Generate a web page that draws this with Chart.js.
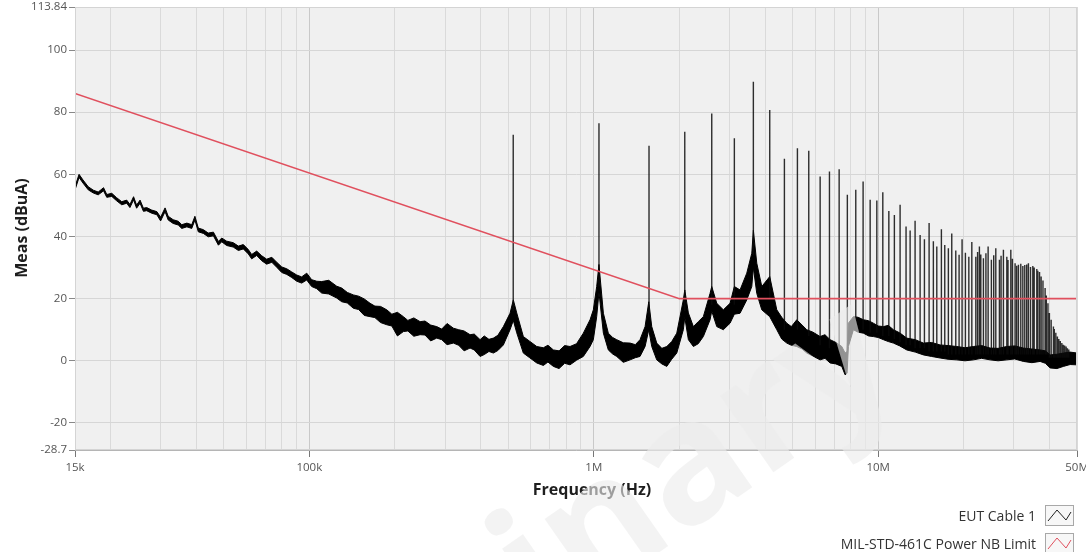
<!DOCTYPE html>
<html>
<head>
<meta charset="utf-8">
<script src="https://cdn.jsdelivr.net/npm/chart.js@4.4.1/dist/chart.umd.min.js"></script>
<style>
  body { margin: 0; background: #fff; }
  #wrap { position: relative; width: 1086px; height: 552px; overflow: hidden; }
  .leg { position: absolute; right: 12px; display: flex; align-items: center;
         font: 14px "Open Sans", sans-serif; color: #333; }
  .leg svg { margin-left: 9px; }
</style>
</head>
<body>
<div id="wrap">
  <canvas id="emiChart" width="1086" height="552"></canvas>
  <div class="leg" style="top:505px">EUT Cable 1
    <svg width="29" height="21"><rect x="0.5" y="0.5" width="28" height="20" fill="#f7f7f7" stroke="#a8a8a8"/>
      <polyline points="3,16 12,5 21,15 26,7" fill="none" stroke="#222" stroke-width="1"/></svg>
  </div>
  <div class="leg" style="top:533px">MIL-STD-461C Power NB Limit
    <svg width="29" height="21"><rect x="0.5" y="0.5" width="28" height="20" fill="#f7f7f7" stroke="#a8a8a8"/>
      <polyline points="3,16 12,5 21,15 26,7" fill="none" stroke="#e0505e" stroke-width="1"/></svg>
  </div>
</div>
<script>
// EUT Cable 1 noise floor, read as low / high edge of the trace (freq kHz, dBuA)
var eutFreq = [15.0, 15.5, 16.0, 16.7, 17.4, 18.1, 18.9, 19.4, 20.2, 21.0,
  21.9, 22.8, 23.4, 24.1, 24.7, 25.4, 26.1, 26.8, 27.9, 29.1,
  30.0, 31.1, 31.9, 33.2, 34.6, 35.6, 37.1, 38.6, 39.6, 40.7,
  42.4, 44.1, 46.0, 47.9, 49.2, 51.2, 54.0, 56.3, 58.6, 61.0,
  62.7, 65.3, 68.0, 70.8, 73.8, 76.8, 80.0, 83.3, 86.7, 90.3,
  94.0, 97.9, 101.9, 106.2, 110.5, 117, 124.8, 130, 136, 142.8,
  149, 156, 163.5, 170, 178, 187.2, 195, 204, 214.1, 222,
  233, 245.1, 255, 267, 280.5, 292, 305, 320.9, 335, 350,
  367.3, 380, 398.4, 412, 428, 443.7, 460, 481.0, 507.7, 521.4,
  536.0, 565.4, 595, 630.3, 665, 690, 721.1, 755, 790, 825.2,
  870, 919.0, 970.3, 996.6, 1024, 1043, 1081, 1125, 1165, 1204,
  1270, 1342, 1400, 1454, 1515, 1561, 1599, 1665, 1735, 1806,
  1880, 1958, 2065, 2089, 2151, 2240, 2330, 2428, 2564, 2599,
  2707, 2855, 3014, 3121, 3268, 3451, 3594, 3640, 3742, 3897,
  4156, 4400, 4580, 4771, 4950, 5173, 5400, 5609, 5900, 6248,
  6500, 6774, 7100, 7446, 7649, 7773, 7856, 8182, 8500, 8870,
  9250, 9618, 10000, 10430, 10850, 11310, 11900, 12600, 13500, 14420,
  15400, 16510, 17600, 18890, 20200, 21610, 23100, 24740, 26400, 28320,
  30200, 32400, 34700, 37090, 38700, 40220, 42500, 44780, 47300, 50000];
var eutLow = [55.0, 59.0, 57.2, 55.0, 54.0, 53.4, 54.7, 52.6, 52.9, 51.5,
  50.2, 50.7, 49.3, 51.8, 49.1, 50.7, 48.1, 48.3, 47.5, 47.0,
  45.0, 48.0, 45.3, 44.2, 43.7, 42.6, 43.1, 42.6, 45.3, 41.5,
  41.0, 39.9, 40.2, 37.2, 38.3, 37.1, 36.6, 35.5, 36.0, 34.4,
  32.8, 33.9, 32.2, 31.1, 31.7, 30.1, 28.4, 27.8, 26.8, 25.6,
  25.0, 26.0, 23.9, 23.2, 21.8, 21.5, 20.2, 19.0, 18.6, 16.9,
  16.5, 14.6, 14.2, 13.9, 12.3, 11.6, 11.2, 8.0, 9.4, 9.6,
  7.9, 8.4, 8.3, 6.4, 7.3, 6.8, 5.2, 5.7, 5.0, 3.2,
  4.1, 3.5, 1.4, 2.0, 3.0, 2.5, 3.3, 5.1, 10.0, 13.0,
  9.0, 2.5, 1.0, -0.7, -1.5, -0.4, -1.8, -2.5, -0.8, -1.3,
  0.2, 1.4, 4.6, 6.8, 14.2, 22.0, 8.9, 3.5, 2.2, 1.4,
  -0.5, 0.3, 1.0, 1.4, 4.6, 10.0, 4.6, 0.3, -1.0, -1.8,
  0.5, 2.5, 10.0, 14.0, 6.8, 4.6, 5.5, 7.8, 13.2, 16.0,
  11.0, 10.0, 12.1, 15.0, 15.3, 19.6, 23.9, 30.0, 21.7, 16.4,
  14.2, 10.0, 7.0, 5.7, 5.0, 4.6, 3.8, 2.5, 1.5, 0.3,
  0.8, -0.7, -1.0, -1.8, -4.5, -4.0, 4.6, 10.0, 9.2, 8.9,
  8.0, 7.8, 7.5, 6.8, 6.2, 5.7, 4.8, 3.5, 2.8, 1.9,
  1.4, 0.9, 0.5, 0.3, 0.0, 0.3, 0.8, 0.3, 0.0, 0.3,
  0.6, -0.2, -0.6, -0.2, -0.8, -2.3, -2.5, -1.8, -1.2, -1.3];
var eutHigh = [56.0, 60.0, 58.2, 56.0, 54.9, 54.3, 55.7, 53.5, 53.9, 52.5,
  51.2, 51.7, 50.3, 52.8, 50.1, 51.7, 49.1, 49.3, 48.5, 48.0,
  46.2, 49.2, 46.5, 45.4, 44.9, 43.8, 44.3, 43.8, 46.5, 42.7,
  42.2, 41.1, 41.4, 38.4, 39.5, 38.5, 38.0, 36.9, 37.4, 35.8,
  34.2, 35.3, 33.8, 32.7, 33.3, 31.7, 30.2, 29.6, 28.6, 27.6,
  27.0, 28.2, 26.1, 25.6, 25.5, 25.9, 24.0, 23.4, 22.0, 21.2,
  20.8, 19.9, 18.5, 17.6, 17.5, 16.4, 15.0, 15.6, 14.2, 13.0,
  13.8, 12.6, 12.8, 11.5, 11.0, 10.2, 12.0, 10.5, 10.0, 9.6,
  8.4, 8.6, 6.8, 8.0, 6.9, 7.3, 8.2, 11.0, 15.3, 19.6,
  15.4, 7.8, 6.3, 4.6, 4.2, 5.0, 3.5, 3.2, 4.9, 4.6,
  5.5, 8.9, 13.2, 16.4, 23.9, 31.0, 15.3, 8.9, 7.5, 6.8,
  5.8, 5.7, 5.2, 6.8, 11.0, 19.0, 11.0, 5.7, 4.0, 4.6,
  6.2, 8.9, 19.6, 22.8, 15.4, 11.0, 12.6, 14.2, 21.7, 23.9,
  18.5, 16.4, 18.5, 23.9, 22.8, 28.2, 34.6, 42.0, 31.4, 23.9,
  27.1, 16.4, 14.0, 12.1, 11.0, 13.2, 11.5, 10.0, 9.2, 7.8,
  8.4, 6.8, 5.9, 4.6, 2.5, 3.0, 12.1, 14.2, 14.0, 13.2,
  12.9, 12.1, 11.2, 11.0, 11.4, 10.0, 9.0, 7.3, 6.8, 5.7,
  5.9, 5.1, 4.9, 4.6, 4.2, 4.6, 4.9, 4.1, 4.0, 4.6,
  4.8, 4.1, 3.8, 3.5, 3.2, 1.9, 2.1, 2.5, 2.8, 2.5];

// harmonic spikes of EUT Cable 1: frequency (kHz), peak and foot level (dBuA)
var spikeFreq = [521, 1043, 1564, 2089, 2599, 3121, 3640, 4156, 4680, 5200,
  5700, 6250, 6740, 7290, 7790, 8340, 8850, 9370, 9890, 10380,
  10900, 11400, 11940, 12530, 12950, 13480, 14040, 14540, 15100, 15630,
  16070, 16680, 17140, 17650, 18140, 18740, 19250, 19720, 20260, 20830,
  21340, 22040, 22360, 22690, 22950, 23440, 23920, 24350, 25000, 25480,
  25910, 26680, 27040, 27560, 28330, 28600, 29260, 29640, 30290, 30680,
  31120, 31720, 32250, 32760, 33280, 33740, 34320, 34960, 35360, 36110,
  36400, 36920, 37400, 37960, 38620, 39000, 39520, 39990, 40560, 41310,
  41600, 42120, 42670, 43160, 43680, 44220, 44720, 45240, 45790, 46280,
  46800];
var spikePeak = [72.7, 76.4, 69.2, 73.7, 79.6, 71.6, 89.8, 80.7, 65.0, 68.4,
  67.6, 59.3, 60.9, 61.6, 53.4, 55.0, 57.7, 51.8, 51.6, 54.2,
  48.2, 46.9, 50.2, 43.2, 41.9, 45.1, 40.5, 39.1, 44.3, 38.5,
  36.8, 42.3, 37.3, 36.2, 41.0, 35.5, 34.1, 39.1, 34.8, 33.5,
  38.2, 33.5, 35.0, 36.8, 34.2, 33.0, 34.6, 36.8, 32.5, 34.0,
  36.2, 32.5, 33.8, 35.7, 33.5, 32.4, 35.7, 32.8, 31.4, 30.6,
  30.9, 31.2, 30.5, 30.8, 31.0, 31.4, 30.2, 30.5, 30.0, 29.5,
  29.0, 28.6, 27.1, 25.8, 23.4, 21.0, 18.5, 15.4, 13.2, 11.0,
  10.2, 9.0, 7.8, 7.0, 6.4, 5.7, 5.2, 4.9, 4.6, 4.0,
  3.6];
var spikeBase = [16, 24, 14, 16, 18, 18, 34, 20, 10, 10,
  8, 5, 4, 3, 2, 11, 10, 9, 9, 8,
  8, 7, 6, 5, 5, 4, 4, 4, 3, 3,
  3, 3, 3, 2, 2, 2, 2, 2, 2, 2,
  2, 2, 2, 2, 2, 2, 2, 2, 2, 2,
  2, 2, 2, 2, 2, 2, 2, 2, 2, 2,
  2, 2, 2, 2, 2, 2, 2, 2, 2, 2,
  2, 2, 2, 2, 2, 2, 2, 1, 1, 1,
  1, 1, 1, 1, 1, 1, 1, 1, 1, 1,
  1];

// MIL-STD-461C power NB limit
var limitFreq = [15, 2000, 50000];
var limitVal = [86, 20, 20];

// axis ticks
var yTickVals = [-28.7, -20, 0, 20, 40, 60, 80, 100, 113.84];
var yTickText = ['-28.7', '-20', '0', '20', '40', '60', '80', '100', '113.84'];
var xTickVals = [15, 100, 1000, 10000, 50000];
var xTickText = ['15k', '100k', '1M', '10M', '50M'];

// vertical grid: 1..9 of every decade inside the range
var xGrid = [15];
[10, 100, 1000, 10000].forEach(function(d) {
  for (var m = 1; m <= 9; m++) {
    var v = m * d;
    if (v > 15 && v < 50000) xGrid.push(v);
  }
});
xGrid.push(50000);

function pts(xs, ys) {
  return xs.map(function(x, i) { return {x: x, y: ys[i]}; });
}

var spikePts = [];
spikeFreq.forEach(function(f, i) {
  spikePts.push({x: f, y: spikeBase[i]}, {x: f, y: spikePeak[i]}, {x: f, y: null});
});

var plotBg = {
  id: 'plotBg',
  beforeDraw: function(chart) {
    var a = chart.chartArea, c = chart.ctx;
    c.save();
    c.fillStyle = '#f0f0f0';
    c.fillRect(a.left, a.top, a.right - a.left, a.bottom - a.top);
    c.restore();
  },
  afterDraw: function(chart) {
    var a = chart.chartArea, c = chart.ctx;
    c.save();
    c.strokeStyle = '#d4d4d4';
    c.lineWidth = 1;
    c.strokeRect(a.left + 0.5, a.top + 0.5, a.right - a.left - 1, a.bottom - a.top - 1);
    // axis titles
    c.fillStyle = '#1e1e1e';
    c.font = 'bold 16px "Open Sans", sans-serif';
    c.textAlign = 'center';
    c.textBaseline = 'middle';
    c.fillText('Frequency (Hz)', 592, 490);
    c.translate(22, 228);
    c.rotate(-Math.PI / 2);
    c.fillText('Meas (dBuA)', 0, 0);
    c.restore();
    // watermark, faint: shows mostly where it crosses the trace
    c.save();
    c.translate(905, 380);
    c.rotate(-35 * Math.PI / 180);
    c.font = 'bold 170px "Open Sans", sans-serif';
    c.textAlign = 'right';
    c.textBaseline = 'alphabetic';
    c.fillStyle = 'rgba(236,236,236,0.62)';
    c.fillText('Preliminary', 0, 0);
    c.restore();
  }
};

var ctx1 = document.getElementById('emiChart').getContext('2d');
var emiChart = new Chart(ctx1, {
  type: 'line',
  data: {
    datasets: [
      {
        label: 'MIL-STD-461C Power NB Limit',
        data: pts(limitFreq, limitVal),
        borderColor: '#e0505e',
        borderWidth: 1.6
      },
      {
        label: 'EUT Cable 1',
        data: spikePts,
        borderColor: 'rgba(10,10,10,0.85)',
        borderWidth: 1.4,
        spanGaps: false
      },
      {
        label: 'EUT high',
        data: pts(eutFreq, eutHigh),
        borderColor: '#000',
        borderWidth: 1,
        backgroundColor: '#000',
        fill: '+1'
      },
      {
        label: 'EUT low',
        data: pts(eutFreq, eutLow),
        borderColor: '#000',
        borderWidth: 1
      }
    ]
  },
  options: {
    responsive: false,
    animation: false,
    devicePixelRatio: 1,
    events: [],
    elements: { point: { radius: 0 }, line: { tension: 0 } },
    layout: { padding: { left: 0, right: 9, top: 7, bottom: 0 }, autoPadding: false },
    plugins: { legend: { display: false }, tooltip: { enabled: false } },
    scales: {
      x: {
        type: 'logarithmic',
        min: 15,
        max: 50000,
        afterBuildTicks: function(s) { s.ticks = xGrid.map(function(v) { return {value: v}; }); },
        afterFit: function(s) { s.height = 102; s.paddingLeft = 0; s.paddingRight = 0; },
        ticks: {
          autoSkip: false,
          maxRotation: 0,
          padding: 4,
          color: '#555',
          font: { family: '"Open Sans", sans-serif', size: 11.5 },
          callback: function(v) {
            var k = xTickVals.indexOf(v);
            return k >= 0 ? xTickText[k] : '';
          }
        },
        grid: {
          color: function(c) {
            var v = c.tick ? c.tick.value : 0;
            return (v === 100 || v === 1000 || v === 10000) ? '#c9c9c9' : '#dadada';
          },
          tickLength: 7,
          tickColor: function(c) {
            return c.tick && xTickVals.indexOf(c.tick.value) >= 0 ? '#777' : 'rgba(0,0,0,0)';
          }
        },
        border: { color: '#b5b5b5' }
      },
      y: {
        min: -28.7,
        max: 113.84,
        afterBuildTicks: function(s) { s.ticks = yTickVals.map(function(v) { return {value: v}; }); },
        afterFit: function(s) { s.width = 75; s.paddingTop = 0; s.paddingBottom = 0; },
        ticks: {
          padding: 2,
          color: '#555',
          font: { family: '"Open Sans", sans-serif', size: 11.5 },
          callback: function(v, i) { return yTickText[i]; }
        },
        grid: { color: '#d6d6d6', tickLength: 6, tickColor: '#888' },
        border: { color: '#b5b5b5' }
      }
    }
  },
  plugins: [plotBg]
});
</script>
</body>
</html>
